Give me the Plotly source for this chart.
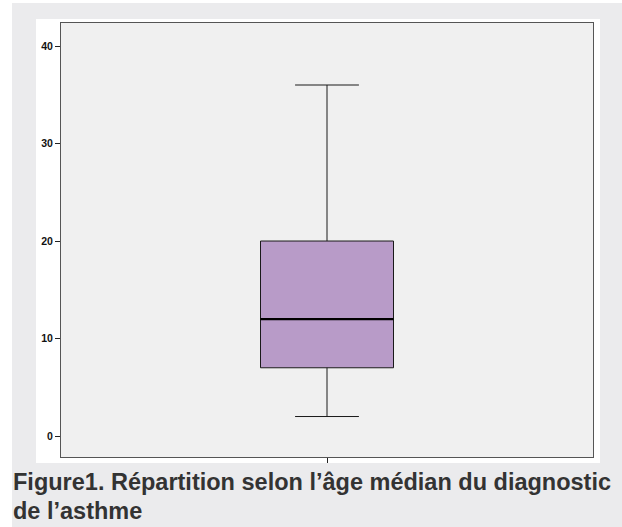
import plotly.graph_objects as go

categories = [0]
q1 = [7]
median = [12]
q3 = [20]
lower = [2]
upper = [36]
y_ticks = [0, 10, 20, 30, 40]
caption1 = "Figure1. Répartition selon l’âge médian du diagnostic"
caption2 = "de l’asthme"

W, H = 622, 527
L, R, T, B = 61, 29, 23, 70
ph = H - T - B

def py(y):
    return (H - B - y) / ph

def px(x):
    return (x - L) / (W - L - R)

fig = go.Figure()
fig.add_trace(go.Box(
    x=categories, q1=q1, median=median, q3=q3,
    lowerfence=lower, upperfence=upper,
    width=1, whiskerwidth=0.48,
    fillcolor="#b89bc8",
    line=dict(color="#1a1a1a", width=1),
    boxpoints=False, hoverinfo="skip", showlegend=False,
))
fig.add_trace(go.Scatter(
    x=[categories[0] - 0.5, categories[0] + 0.5], y=[median[0], median[0]],
    mode="lines", line=dict(color="#000000", width=2.2),
    hoverinfo="skip", showlegend=False,
))

fig.update_layout(
    width=W, height=H,
    margin=dict(l=L, r=R, t=T, b=B, pad=0),
    paper_bgcolor="white",
    plot_bgcolor="#f0f0f0",
    font=dict(family="Liberation Sans, Arial, sans-serif", color="#222"),
    xaxis=dict(range=[-2, 2], tickvals=categories, ticktext=[""],
               ticks="outside", ticklen=5, tickcolor="#222",
               showgrid=False, zeroline=False,
               showline=True, linecolor="#555", linewidth=1, mirror=True),
    yaxis=dict(range=[-2.15, 42.36], tickvals=y_ticks,
               ticks="outside", ticklen=5, tickcolor="#222",
               tickfont=dict(size=10.5, color="#111", family="Liberation Sans, Arial, sans-serif", weight="bold"),
               showgrid=False, zeroline=False,
               showline=True, linecolor="#555", linewidth=1, mirror=True),
    shapes=[
        dict(type="rect", xref="paper", yref="paper", layer="below",
             x0=px(12), x1=px(622), y0=py(527), y1=py(3),
             fillcolor="#ebebed", line=dict(width=0)),
        dict(type="rect", xref="paper", yref="paper", layer="below",
             x0=px(36), x1=px(600), y0=py(463), y1=py(19),
             fillcolor="white", line=dict(width=0)),
        dict(type="rect", xref="paper", yref="paper", layer="below",
             x0=0, x1=1, y0=0, y1=1,
             fillcolor="#f0f0f0", line=dict(width=0)),
    ],
    annotations=[
        dict(text="<b>%s</b>" % caption1, xref="paper", yref="paper",
             x=px(11), y=py(481.5), xanchor="left", yanchor="middle",
             showarrow=False, font=dict(size=23.5, color="#333")),
        dict(text="<b>%s</b>" % caption2, xref="paper", yref="paper",
             x=px(11), y=py(510.5), xanchor="left", yanchor="middle",
             showarrow=False, font=dict(size=23.5, color="#333")),
    ],
)

fig.write_html("out.html", config={"displayModeBar": False},
               post_script="document.body.style.margin='0px';")
